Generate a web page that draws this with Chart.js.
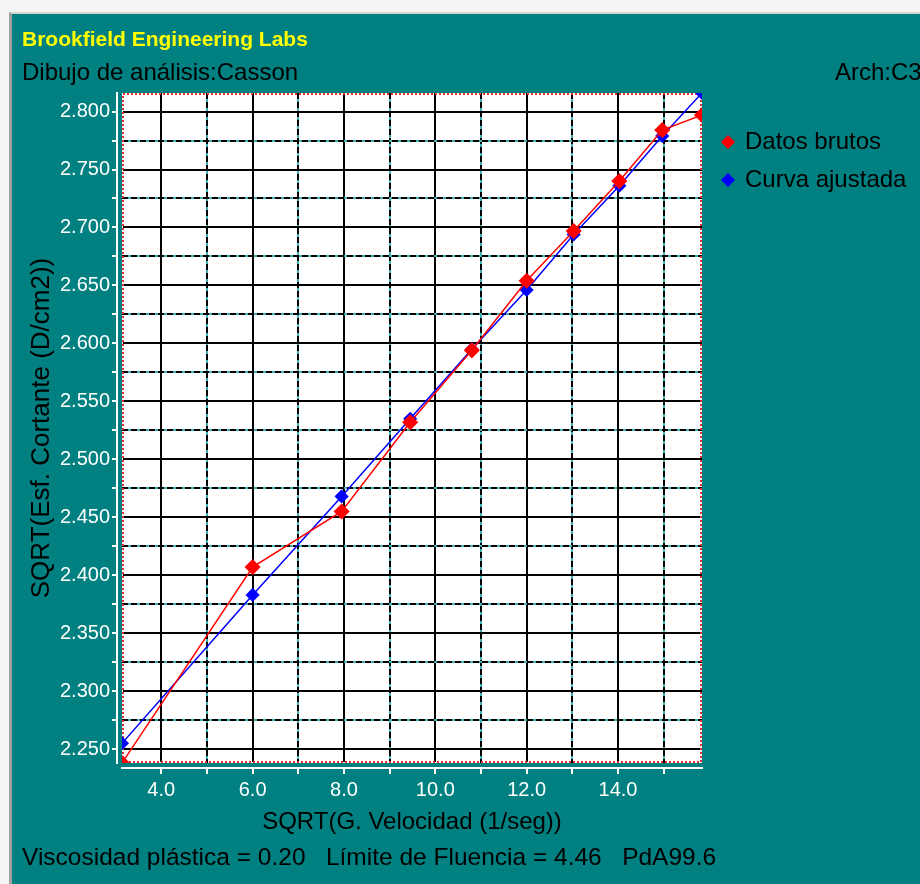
<!DOCTYPE html>
<html>
<head>
<meta charset="utf-8">
<title>Dibujo de análisis: Casson</title>
<script src="https://cdn.jsdelivr.net/npm/chart.js@4.4.1/dist/chart.umd.min.js"></script>
<style>
  html, body { margin: 0; padding: 0; background: #f4f4f4; }
  #frame {
    position: absolute; left: 9px; top: 12px;
    border-left: 3px solid #a0a0a0; border-top: 2px solid #d4d4d4;
    background: #008080;
  }
  canvas { display: block; }
</style>
</head>
<body>
<div id="frame"><canvas id="cassonChart" width="908" height="870"></canvas></div>
<script>
// SQRT of shear rate (x) and SQRT of shear stress (y)
const shearRoot = [3.14, 6.00, 7.95, 9.45, 10.80, 12.00, 13.03, 14.03, 14.97, 15.84];
const rawStress = [2.238, 2.407, 2.455, 2.532, 2.594, 2.654, 2.697, 2.740, 2.784, 2.797];
const fitStress = [2.255, 2.383, 2.468, 2.535, 2.595, 2.646, 2.694, 2.736, 2.779, 2.816];

const seriesNames = ['Datos brutos', 'Curva ajustada'];
const seriesColors = ['#ff0000', '#0000ff'];

const xMajor = [4, 6, 8, 10, 12, 14];
const xMinor = [5, 7, 9, 11, 13, 15];
const yMajor = [2.250, 2.300, 2.350, 2.400, 2.450, 2.500, 2.550, 2.600, 2.650, 2.700, 2.750, 2.800];
const yMinor = [2.275, 2.325, 2.375, 2.425, 2.475, 2.525, 2.575, 2.625, 2.675, 2.725, 2.775];

const headerTitle = 'Brookfield Engineering Labs';
const headerSub = 'Dibujo de análisis:Casson';
const headerFile = 'Arch:C3';
const xTitle = 'SQRT(G. Velocidad (1/seg))';
const yTitle = 'SQRT(Esf. Cortante (D/cm2))';
const resultsLine = 'Viscosidad plástica = 0.20   Límite de Fluencia = 4.46   PdA99.6';

const FONT = "'Liberation Sans', Arial, sans-serif";
Chart.defaults.font.family = FONT;

const xMin = shearRoot[0];
const xMax = shearRoot[shearRoot.length - 1];
const yMin = Math.min(...rawStress, ...fitStress);
const yMax = Math.max(...rawStress, ...fitStress);

const isIn = (list, v) => list.some(m => Math.abs(m - v) < 1e-6);
const toTicks = list => list.map(v => ({ value: v }));

// helper for the extra axes that only draw the odd grid lines
function gridOnlyAxis(axis, pos, min, max, values, color, dash, size, weight) {
  return {
    type: 'linear', axis: axis, position: pos, min: min, max: max, weight: weight,
    afterBuildTicks: s => { s.ticks = toTicks(values); },
    afterFit: s => { if (axis === 'x') s.height = size; else s.width = size; },
    ticks: { display: false },
    grid: { color: color, lineWidth: 2, drawTicks: false },
    border: { display: false, dash: dash }
  };
}

const plotDecor = {
  id: 'plotDecor',
  beforeDraw(chart) {
    const { ctx, chartArea: a } = chart;
    ctx.save();
    ctx.fillStyle = '#ffffff';
    ctx.fillRect(a.left, a.top, a.right - a.left, a.bottom - a.top);
    ctx.restore();
  },
  beforeDatasetsDraw(chart) {
    const { ctx, chartArea: a } = chart;
    ctx.save();
    ctx.strokeStyle = '#e03030';
    ctx.lineWidth = 2;
    ctx.setLineDash([2, 2]);
    ctx.strokeRect(a.left + 1, a.top + 1, a.right - a.left - 2, a.bottom - a.top - 2);
    ctx.restore();
  },
  afterDraw(chart) {
    const ctx = chart.ctx;
    ctx.save();
    ctx.textBaseline = 'alphabetic';
    ctx.textAlign = 'left';

    ctx.fillStyle = '#ffff00';
    ctx.font = 'bold 21px ' + FONT;
    ctx.fillText(headerTitle, 10, 32);

    ctx.fillStyle = '#000000';
    ctx.font = '24px ' + FONT;
    ctx.fillText(headerSub, 10, 66);
    ctx.fillText(headerFile, 823, 66);
    ctx.font = '24.5px ' + FONT;
    ctx.fillText(resultsLine, 10, 851);

    // legend
    ctx.font = '24px ' + FONT;
    const rows = [135, 173];
    chart.data.datasets.forEach((ds, i) => {
      const cx = 716, cy = rows[i] - 7, r = 7;
      ctx.fillStyle = ds.borderColor;
      ctx.beginPath();
      ctx.moveTo(cx, cy - r);
      ctx.lineTo(cx + r, cy);
      ctx.lineTo(cx, cy + r);
      ctx.lineTo(cx - r, cy);
      ctx.closePath();
      ctx.fill();
      ctx.fillStyle = '#000000';
      ctx.fillText(ds.label, 733, rows[i]);
    });
    ctx.restore();
  }
};

const ctxCasson = document.getElementById('cassonChart').getContext('2d');
const cassonChart = new Chart(ctxCasson, {
  type: 'line',
  data: {
    datasets: [{
      label: seriesNames[0],
      data: shearRoot.map((x, i) => ({ x: x, y: rawStress[i] })),
      borderColor: seriesColors[0],
      backgroundColor: seriesColors[0],
      borderWidth: 1.5,
      pointStyle: 'rectRot',
      pointRadius: 7,
      tension: 0,
      clip: 0
    }, {
      label: seriesNames[1],
      data: shearRoot.map((x, i) => ({ x: x, y: fitStress[i] })),
      borderColor: seriesColors[1],
      backgroundColor: seriesColors[1],
      borderWidth: 1.5,
      pointStyle: 'rectRot',
      pointRadius: 6,
      tension: 0,
      clip: 0
    }]
  },
  options: {
    responsive: false,
    animation: false,
    devicePixelRatio: 1,
    events: [],
    layout: { padding: { left: 10, right: 218, top: 79, bottom: 36 } },
    plugins: { legend: { display: false }, tooltip: { enabled: false } },
    scales: {
      xTeal: gridOnlyAxis('x', 'bottom', xMin, xMax, xMinor, '#3fb0b0', [], 0, 0),
      xDash: gridOnlyAxis('x', 'bottom', xMin, xMax, xMinor, '#000000', [6, 3], 5, 1),
      x: {
        type: 'linear', position: 'bottom', min: xMin, max: xMax, weight: 2,
        afterBuildTicks: s => { s.ticks = toTicks([...xMajor, ...xMinor].sort((a, b) => a - b)); },
        afterFit: s => { s.height = 80; },
        ticks: {
          color: '#ffffff', font: { size: 20 }, padding: 4, autoSkip: false, maxRotation: 0,
          callback: v => isIn(xMajor, v) ? v.toFixed(1) : ''
        },
        grid: {
          color: c => isIn(xMajor, c.tick.value) ? '#000000' : 'transparent',
          lineWidth: 2, tickColor: '#ffffff', tickLength: 6, tickWidth: 2
        },
        border: { color: '#ffffff', width: 2 },
        title: { display: true, text: xTitle, color: '#000000', font: { size: 24 }, padding: { top: 0, bottom: 11 } }
      },
      yTeal: gridOnlyAxis('y', 'left', yMin, yMax, yMinor, '#3fb0b0', [], 0, 0),
      yDash: gridOnlyAxis('y', 'left', yMin, yMax, yMinor, '#000000', [6, 3], 5, 1),
      y: {
        type: 'linear', position: 'left', min: yMin, max: yMax, weight: 2,
        afterBuildTicks: s => { s.ticks = toTicks([...yMajor, ...yMinor].sort((a, b) => a - b)); },
        afterFit: s => { s.width = 95; },
        ticks: {
          color: '#ffffff', font: { size: 20 }, padding: 2, autoSkip: false,
          callback: v => isIn(yMajor, v) ? v.toFixed(3) : ''
        },
        grid: {
          color: c => isIn(yMajor, c.tick.value) ? '#000000' : 'transparent',
          lineWidth: 2, tickColor: '#ffffff', tickLength: 5, tickWidth: 2
        },
        border: { color: '#ffffff', width: 2 },
        title: { display: true, text: yTitle, color: '#000000', font: { size: 26 }, padding: { top: 4, bottom: 0 } }
      }
    }
  },
  plugins: [plotDecor]
});
</script>
</body>
</html>
